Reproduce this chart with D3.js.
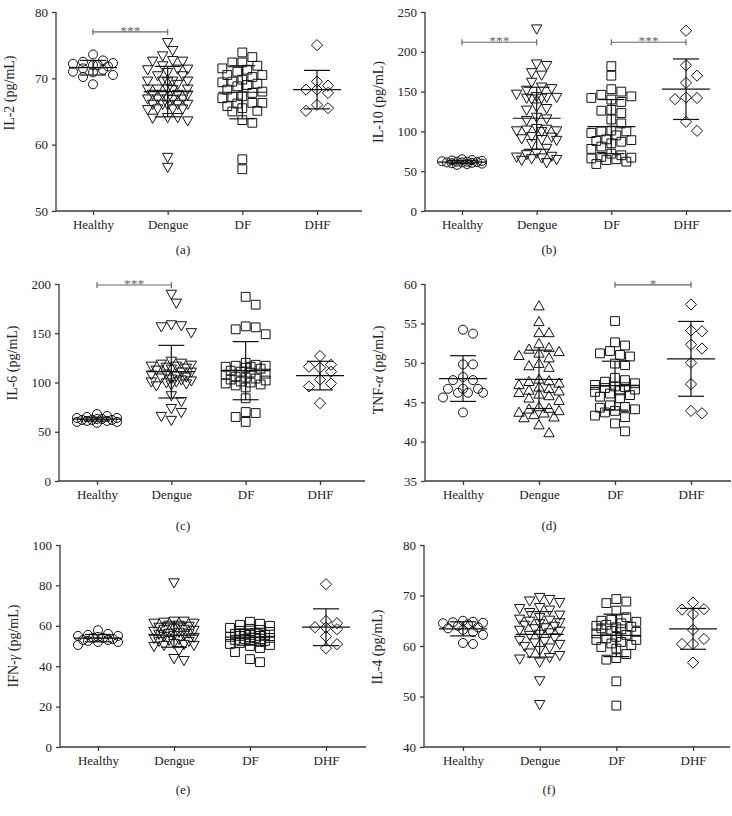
<!DOCTYPE html>
<html><head><meta charset="utf-8">
<script src="https://cdn.jsdelivr.net/npm/d3@7"></script>
<style>body{margin:0;background:#fff}svg{display:block}</style>
</head><body>
<svg id="chart" width="732" height="816"></svg>
<script>
const categories = ["Healthy", "Dengue", "DF", "DHF"];

// (a) IL-2
const il2Healthy = [73.6, 72.7, 72.5, 72.3, 72.2, 72.0, 72.0, 71.8, 71.5, 71.3, 71.0, 70.9, 70.5, 70.2, 69.1];
const il2Dengue = [75.3, 74.1, 73.3, 72.6, 72.5, 72.5, 71.8, 71.3, 71.3, 71.2, 70.8, 70.3, 70.3, 69.5, 69.5, 69.5, 69.4, 69.5, 69.0, 68.3, 68.3, 68.3, 68.2, 68.3, 67.5, 67.5, 67.4, 67.5, 66.8, 66.8, 66.8, 66.7, 66.8, 66.0, 66.0, 66.0, 65.9, 66.0, 65.3, 65.3, 65.2, 65.3, 64.0, 64.0, 63.9, 63.5, 58.0, 56.5];
const il2DF = [73.9, 73.2, 72.4, 72.4, 71.9, 71.5, 71.3, 71.0, 70.5, 70.5, 70.2, 69.8, 69.5, 69.4, 69.2, 69.0, 68.8, 68.3, 68.0, 67.8, 67.3, 67.2, 67.0, 66.3, 66.3, 66.2, 65.8, 65.5, 65.1, 65.0, 63.7, 63.3, 57.8, 56.3];
const il2DHF = [75.0, 69.5, 68.9, 68.3, 68.3, 67.8, 66.0, 65.5, 65.1];
const il2Mean = [71.6, 68.0, 67.9, 68.3];
const il2SD = [1.1, 3.8, 4.0, 2.9];

// (b) IL-10
const il10Healthy = [65, 64, 63.5, 63, 62.5, 62, 62, 61.5, 61, 61, 60.5, 60, 59.5, 59, 58];
const il10Dengue = [228, 184, 182, 173, 170, 161, 155, 153, 151, 146, 143, 142, 142, 141, 141, 140, 130, 128, 126, 117, 115, 113, 103, 102, 101, 100, 100, 99, 93, 92, 90, 89, 88, 84, 78, 72, 70, 68, 67, 66, 65, 64, 63, 60];
const il10DF = [182, 170, 153, 150, 146, 144, 142, 140, 137, 127, 126, 123, 115, 110, 101, 100, 100, 98, 95, 90, 89, 88, 87, 85, 81, 78, 72, 70, 68, 67, 66, 65, 64, 62, 59];
const il10DHF = [226.5, 183, 170, 161, 142.6, 142, 140.5, 112, 100.7];
const il10Mean = [61.5, 116.5, 106, 153];
const il10SD = [2, 39, 34, 38];

// (c) IL-6
const il6Healthy = [68, 66, 65, 64, 64, 63, 63, 62, 62, 62, 61, 61, 60, 60, 59];
const il6Dengue = [189, 180, 158, 157, 156, 150, 121, 119, 118, 117, 116, 116, 115, 114, 113, 112, 110, 110, 108, 107, 106, 105, 104, 103, 102, 101, 100, 100, 99, 98, 97, 96, 86, 80, 73, 69, 65, 61];
const il6DF = [187, 179, 157, 156, 154, 149, 120, 118, 117, 117, 116, 116, 115, 114, 112, 111, 110, 109, 108, 106, 105, 104, 103, 102, 101, 100, 99, 98, 97, 95, 84, 70, 69, 65, 60];
const il6DHF = [127, 118, 116, 115, 111, 103, 99, 96, 79];
const il6Mean = [62.8, 111, 112, 107];
const il6SD = [2, 26.7, 29.5, 14.5];

// (d) TNF-alpha
const tnfHealthy = [54.2, 53.7, 49.8, 49.8, 48.2, 47.8, 47.8, 46.7, 46.7, 46.7, 46.2, 46.2, 46.2, 45.6, 43.7];
const tnfDengue = [57.3, 55.3, 53.9, 53.9, 52.5, 52.0, 51.8, 51.5, 51.3, 51.0, 50.7, 50.0, 49.7, 49.5, 48.0, 47.8, 47.7, 47.5, 47.3, 47.0, 46.8, 46.6, 46.5, 46.3, 46.1, 45.9, 45.6, 45.3, 44.5, 44.3, 44.2, 44.0, 43.8, 43.7, 43.5, 43.2, 43.1, 42.2, 41.2];
const tnfDF = [55.3, 52.6, 52.2, 51.5, 51.2, 51.0, 50.8, 49.9, 49.7, 48.1, 47.8, 47.6, 47.4, 47.2, 47.0, 46.9, 46.8, 46.6, 46.5, 46.3, 46.1, 45.9, 45.7, 45.5, 44.6, 44.4, 44.3, 44.1, 43.9, 43.7, 43.3, 43.1, 42.3, 41.3];
const tnfDHF = [57.4, 54.1, 54.0, 52.3, 51.8, 50.0, 47.3, 43.9, 43.6];
const tnfMean = [48.0, 47.9, 47.1, 50.5];
const tnfSD = [2.9, 3.7, 3.1, 4.75];

// (e) IFN-gamma
const ifnHealthy = [57.8, 56, 55.5, 55, 55, 54.5, 54, 54, 53.5, 53, 53, 52.5, 52, 52, 50.5];
const ifnDengue = [81, 62, 62, 61.5, 61, 61, 60, 60, 59.5, 59, 58.5, 58, 58, 57.5, 57, 56.5, 56, 56, 55.5, 55, 55, 54.5, 54, 53.5, 53, 52.5, 52, 52, 51, 50.5, 50, 50, 49.5, 47.5, 43.5, 42.5];
const ifnDF = [62, 61, 60.5, 60, 59, 58.5, 58, 57.5, 57, 56.5, 56, 56, 55.5, 55.5, 55, 55, 54.5, 54, 54, 53.5, 53, 53, 52.5, 52, 51.5, 51, 50.5, 50, 49, 47, 43.5, 42];
const ifnDHF = [80.6, 62.4, 61.3, 59.3, 59.1, 58.3, 54.7, 50.9, 48.9];
const ifnMean = [53.9, 55.4, 54.4, 59.3];
const ifnSD = [1.8, 6.0, 4.0, 9.1];

// (f) IL-4
const il4Healthy = [65.0, 64.8, 64.7, 64.6, 64.5, 64.3, 64.0, 63.7, 63.5, 63.2, 62.8, 62.2, 60.6, 60.4];
const il4Dengue = [69.5, 69.1, 68.8, 68.5, 67.5, 67.3, 67.0, 66.5, 66.0, 65.5, 65.2, 65.0, 64.8, 64.5, 64.3, 64.0, 63.8, 63.5, 63.3, 63.0, 62.8, 62.5, 62.2, 62.0, 61.5, 61.0, 60.8, 60.5, 60.2, 59.8, 59.5, 59.0, 58.5, 58.0, 57.6, 57.3, 56.7, 53.0, 48.3];
const il4DF = [69.3, 68.8, 68.5, 67.0, 65.7, 65.2, 65.0, 64.8, 64.5, 64.2, 64.0, 63.8, 63.7, 63.5, 63.3, 63.0, 62.8, 62.5, 62.2, 61.8, 61.5, 61.2, 61.2, 60.8, 60.5, 60.2, 59.8, 59.5, 58.4, 57.6, 57.3, 53.0, 48.2];
const il4DHF = [68.6, 67.3, 67.2, 66.3, 63.2, 61.4, 60.4, 60.4, 56.7];
const il4Mean = [63.4, 62.3, 62.1, 63.4];
const il4SD = [1.4, 4.5, 4.2, 4.05];

// axis tick labels
const il2Ticks = [50, 60, 70, 80];
const il10Ticks = [0, 50, 100, 150, 200, 250];
const il6Ticks = [0, 50, 100, 150, 200];
const tnfTicks = [35, 40, 45, 50, 55, 60];
const ifnTicks = [0, 20, 40, 60, 80, 100];
const il4Ticks = [40, 50, 60, 70, 80];

// significance brackets
const il2Sig = [{from: "Healthy", to: "Dengue", value: 77, text: "***"}];
const il10Sig = [{from: "Healthy", to: "Dengue", value: 212, text: "***"}, {from: "DF", to: "DHF", value: 212, text: "***"}];
const il6Sig = [{from: "Healthy", to: "Dengue", value: 199, text: "***"}];
const tnfSig = [{from: "DF", to: "DHF", value: 59.9, text: "*"}];

const panels = [
  {tag: "(a)", title: ["IL-2 (pg/mL)"], groups: [il2Healthy, il2Dengue, il2DF, il2DHF], means: il2Mean, sds: il2SD, ticks: il2Ticks, sig: il2Sig, up: false},
  {tag: "(b)", title: ["IL-10 (pg/mL)"], groups: [il10Healthy, il10Dengue, il10DF, il10DHF], means: il10Mean, sds: il10SD, ticks: il10Ticks, sig: il10Sig, up: false},
  {tag: "(c)", title: ["IL-6 (pg/mL)"], groups: [il6Healthy, il6Dengue, il6DF, il6DHF], means: il6Mean, sds: il6SD, ticks: il6Ticks, sig: il6Sig, up: false},
  {tag: "(d)", title: ["TNF-", "α", " (pg/mL)"], groups: [tnfHealthy, tnfDengue, tnfDF, tnfDHF], means: tnfMean, sds: tnfSD, ticks: tnfTicks, sig: tnfSig, up: true},
  {tag: "(e)", title: ["IFN-", "γ", " (pg/mL)"], groups: [ifnHealthy, ifnDengue, ifnDF, ifnDHF], means: ifnMean, sds: ifnSD, ticks: ifnTicks, sig: [], up: false},
  {tag: "(f)", title: ["IL-4 (pg/mL)"], groups: [il4Healthy, il4Dengue, il4DF, il4DHF], means: il4Mean, sds: il4SD, ticks: il4Ticks, sig: [], up: false}
];

// layout
const layout = [
  {left: 56, top: 12, bottom: 211, x0: 93, x1: 317, titleY: 93, tagX: 183, tagY: 254},
  {left: 425, top: 12, bottom: 211, x0: 462, x1: 686, titleY: 102, tagX: 549, tagY: 254},
  {left: 59, top: 284, bottom: 481, x0: 97, x1: 320, titleY: 363, tagX: 183, tagY: 530},
  {left: 425, top: 284, bottom: 481, x0: 463, x1: 691, titleY: 370, tagX: 549, tagY: 530},
  {left: 60, top: 545, bottom: 747, x0: 98, x1: 326, titleY: 646, tagX: 183, tagY: 794},
  {left: 424, top: 545, bottom: 747, x0: 463, x1: 693, titleY: 647, tagX: 549, tagY: 794}
];

const FONT = "'Liberation Serif', 'Times New Roman', Times, serif";
const svg = d3.select("#chart");
const AX = "#3a3a3a";

const symTri = { draw(ctx) { const w = 5.2, h = 4.6; ctx.moveTo(-w, -h); ctx.lineTo(w, -h); ctx.lineTo(0, h); ctx.closePath(); } };
const symTriUp = { draw(ctx) { const w = 5.2, h = 4.6; ctx.moveTo(-w, h); ctx.lineTo(w, h); ctx.lineTo(0, -h); ctx.closePath(); } };
const symSq = { draw(ctx) { ctx.rect(-4.4, -4.4, 8.8, 8.8); } };
const symDia = { draw(ctx) { ctx.moveTo(0, -5.6); ctx.lineTo(5.6, 0); ctx.lineTo(0, 5.6); ctx.lineTo(-5.6, 0); ctx.closePath(); } };
const symCirc = { draw(ctx) { ctx.moveTo(4.5, 0); ctx.arc(0, 0, 4.5, 0, 2 * Math.PI); } };

// deterministic bounded beeswarm: spreads points sideways but never wider than maxW
function swarm(vals, y, minDist, step, maxW) {
  const pts = vals.map(v => ({v, py: y(v), dx: 0})).sort((a, b) => b.v - a.v);
  const placed = [];
  const cands = [0];
  for (let k = 1; k * step <= maxW + 0.01; k++) { cands.push(k * step, -k * step); }
  pts.forEach(p => {
    let best = 0, bestD = -1;
    for (const off of cands) {
      let dmin = Infinity;
      for (const q of placed) {
        const dx = q.dx - off, dy = q.py - p.py;
        const d = Math.sqrt(dx * dx + dy * dy);
        if (d < dmin) dmin = d;
      }
      if (dmin >= minDist) { best = off; bestD = dmin; break; }
      if (dmin > bestD + 0.5) { bestD = dmin; best = off; }
    }
    p.dx = best;
    placed.push(p);
  });
  return placed;
}

panels.forEach((P, pi) => {
  const L = layout[pi];
  const g = svg.append("g");
  const dom = d3.extent(P.ticks);
  const y = d3.scaleLinear().domain(dom).range([L.bottom, L.top]);
  const x = d3.scalePoint().domain(categories).range([L.x0, L.x1]);

  const yAxis = g.append("g").attr("transform", `translate(${L.left},0)`)
    .call(d3.axisLeft(y).tickValues(P.ticks).tickSize(4).tickPadding(4).tickFormat(d3.format("d")));
  const xAxis = g.append("g").attr("transform", `translate(0,${L.bottom})`)
    .call(d3.axisBottom(x).tickSize(4).tickPadding(5));
  xAxis.select(".domain").attr("d", `M${L.left},0H${L.left + 306}`);
  yAxis.select(".domain").attr("d", `M0,${L.bottom}V${L.top}`);
  [yAxis, xAxis].forEach(a => {
    a.select(".domain").attr("stroke", AX).attr("stroke-width", 1.3);
    a.selectAll(".tick line").attr("stroke", AX).attr("stroke-width", 1.3);
    a.selectAll(".tick text").attr("fill", "#222").attr("font-family", FONT).attr("font-size", 13);
  });

  const t = g.append("text").attr("transform", `translate(${L.left - 42},${L.titleY}) rotate(-90)`)
    .attr("text-anchor", "middle").attr("font-family", FONT).attr("font-size", 14).attr("fill", "#222");
  P.title.forEach((s, i) => t.append("tspan").text(s).attr("font-style", i === 1 ? "italic" : null));

  g.append("text").attr("x", L.tagX).attr("y", L.tagY).attr("text-anchor", "middle")
    .attr("font-family", FONT).attr("font-size", 13).attr("fill", "#222").text(P.tag);

  const shapes = [symCirc, P.up ? symTriUp : symTri, symSq, symDia];
  P.groups.forEach((vals, gi) => {
    const cx = x(categories[gi]);
    const pts = gi === 3 ? swarm(vals, y, 11, 11, 11) : swarm(vals, y, 9.4, 5, 21);
    g.append("g").selectAll("path").data(pts).join("path")
      .attr("transform", p => `translate(${cx + p.dx},${p.py})`)
      .attr("d", d3.symbol().type(shapes[gi]))
      .attr("fill", "none").attr("stroke", "#111").attr("stroke-width", 1);
    const mw = 24, cw = 13;
    const m = P.means[gi], s = P.sds[gi];
    const eb = g.append("g").attr("stroke", "#111").attr("stroke-width", 1.2);
    eb.append("line").attr("x1", cx - mw).attr("x2", cx + mw).attr("y1", y(m)).attr("y2", y(m));
    eb.append("line").attr("x1", cx).attr("x2", cx).attr("y1", y(m - s)).attr("y2", y(m + s));
    eb.append("line").attr("x1", cx - cw).attr("x2", cx + cw).attr("y1", y(m + s)).attr("y2", y(m + s));
    eb.append("line").attr("x1", cx - cw).attr("x2", cx + cw).attr("y1", y(m - s)).attr("y2", y(m - s));
  });

  P.sig.forEach(b => {
    const xa = x(b.from), xb = x(b.to), yy = y(b.value);
    const bg = g.append("g").attr("stroke", "#666").attr("stroke-width", 1.2);
    bg.append("line").attr("x1", xa).attr("x2", xb).attr("y1", yy).attr("y2", yy);
    bg.append("line").attr("x1", xa).attr("x2", xa).attr("y1", yy - 3).attr("y2", yy + 3);
    bg.append("line").attr("x1", xb).attr("x2", xb).attr("y1", yy - 3).attr("y2", yy + 3);
    g.append("text").attr("x", (xa + xb) / 2).attr("y", yy + 3).attr("text-anchor", "middle")
      .attr("font-family", FONT).attr("font-size", 13.5).attr("fill", "#666").text(b.text);
  });
});
</script>
</body></html>
